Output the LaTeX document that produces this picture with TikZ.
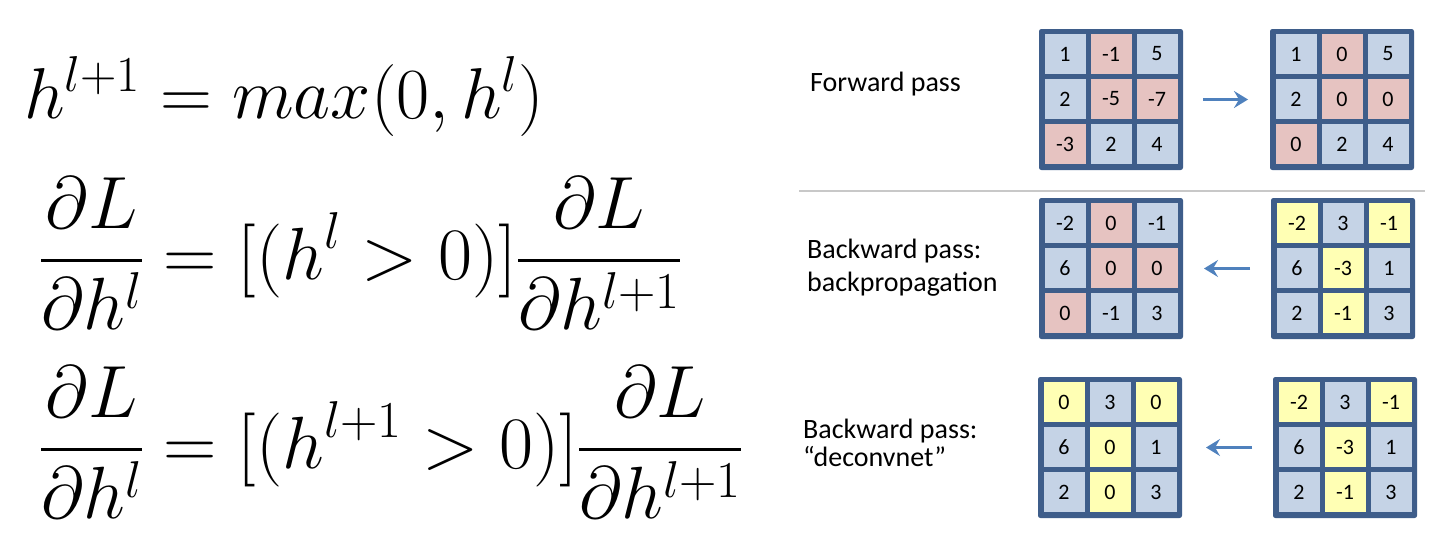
\RequirePackage{fix-cm}
\documentclass[tikz,border=0pt]{standalone}
\DeclareFontShape{OMX}{cmex}{m}{n}{<->cmex10}{}
\usepackage{fontspec}
\usetikzlibrary{arrows.meta}
\newfontfamily\calib{Carlito}
\newcommand\tfrac[2]{{\displaystyle{#1}\above 3.2pt{#2}}}
\definecolor{gridborder}{HTML}{3E5D8A}
\definecolor{cb}{HTML}{C5D3E6}
\definecolor{cp}{HTML}{E6C3C1}
\definecolor{cy}{HTML}{FFFFB4}
\definecolor{arrowblue}{HTML}{4F81BD}
\definecolor{sepgray}{HTML}{C8C8C8}
\tikzset{
  frame/.style={draw=gridborder, fill=gridborder, line width=1, rounded corners=2, inner sep=0, minimum width=143, minimum height=140},
  cell/.style={inner sep=0, minimum width=41, minimum height=40, font=\calib\fontsize{22}{24}\selectfont},
  arr/.style={-{Stealth[length=14,width=17,inset=5]}, line width=3.5, draw=arrowblue},
  lbl/.style={inner sep=0, font=\calib\fontsize{28}{32.5}\selectfont},
  eqn/.style={inner sep=0, anchor=base west, font=\fontsize{74}{88}\selectfont},
}
\newcommand\drawgrid[4]{%
  \node[frame, anchor=north west] (#1) at (#2,#3) {};
  \foreach \col/\val [count=\i from 0] in {#4} {
    \pgfmathtruncatemacro\rr{int(\i/3)}
    \pgfmathtruncatemacro\kk{mod(\i,3)}
    \node[cell, fill=\col] (#1-\i) at (#2+5.5+20.5+\kk*46, #3+5+20+\rr*45) {\val};
  }
}
\begin{document}
\begin{tikzpicture}[x=1pt,y=-1pt]
\useasboundingbox (0,0) rectangle (1448,554);
\fill[white] (0,0) rectangle (1448,554);
% equations
\node[eqn, font=\fontsize{72}{86}\selectfont] (eq1) at (24,118) {$h^{l+1} = max(0,h^l)$};
\node[eqn] (eq2) at (40,279) {$\displaystyle\tfrac{\partial L}{\partial h^l} = [(h^l > 0)]\tfrac{\partial L}{\partial h^{l+1}}$};
\node[eqn] (eq3) at (40,468) {$\displaystyle\tfrac{\partial L}{\partial h^l} = [(h^{l+1} > 0)]\tfrac{\partial L}{\partial h^{l+1}}$};
% labels
\node[lbl, anchor=base west] (fwd) at (810,91) {Forward pass};
\node[lbl, align=left, anchor=north west] (bprop) at (807,239) {Backward pass:\\backpropagation};
\node[lbl, align=left, anchor=north west, font=\calib\fontsize{28}{27.5}\selectfont] (dconv) at (803,419) {Backward pass:\\“deconvnet”};
% separator
\draw[sepgray, line width=1.5] (799,191) -- (1425,191);
% grids
\drawgrid{g1}{1039}{29}{cb/1,cp/-1,cb/5,cb/2,cp/-5,cp/-7,cp/-3,cb/2,cb/4}
\drawgrid{g2}{1270}{29}{cb/1,cp/0,cb/5,cb/2,cp/0,cp/0,cp/0,cb/2,cb/4}
\drawgrid{g3}{1039}{198}{cb/-2,cp/0,cb/-1,cb/6,cp/0,cp/0,cp/0,cb/-1,cb/3}
\drawgrid{g4}{1271}{198}{cy/-2,cb/3,cy/-1,cb/6,cy/-3,cb/1,cb/2,cy/-1,cb/3}
\drawgrid{g5}{1038}{377}{cy/0,cb/3,cy/0,cb/6,cy/0,cb/1,cb/2,cy/0,cb/3}
\drawgrid{g6}{1273}{377}{cy/-2,cb/3,cy/-1,cb/6,cy/-3,cb/1,cb/2,cy/-1,cb/3}
% arrows
\draw[arr, shorten <=20, shorten >=22] (g1) -- (g2);
\draw[arr, shorten <=21, shorten >=21] (g4) -- (g3);
\draw[arr, shorten <=21, shorten >=24] (g6) -- (g5);
\end{tikzpicture}
\end{document}
